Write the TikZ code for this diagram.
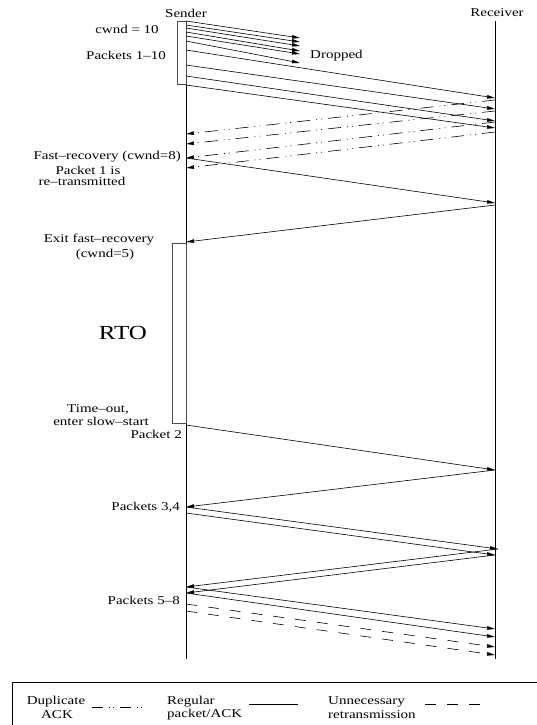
\documentclass[tikz,border=0pt]{standalone}
\usepackage{fontspec}
\setmainfont{Liberation Serif}[FakeStretch=1.25]
\usetikzlibrary{arrows.meta}

\begin{document}
\begin{tikzpicture}[x=1pt, y=-1pt, >={Stealth[length=8pt,width=3.5pt,inset=0pt]},
  every node/.style={font=\fontsize{12}{14}\selectfont, inner sep=0pt},
  packet/.style={->, line width=0.6pt},
  dupack/.style={->, line width=0.6pt, dash pattern=on 13pt off 6pt on 1pt off 4pt on 1pt off 6pt},
  spurious/.style={->, line width=0.6pt, dash pattern=on 11pt off 11pt},
  window/.style={draw=black!70, line width=0.6pt},
  lbl/.style={anchor=east}]
  \useasboundingbox (0,0) rectangle (536,725);
  % time lines
  \node (snd) at (186,13) {Sender};
  \node (rcv) at (497,13) {Receiver};
  \coordinate (sTop) at (186,21); \coordinate (sBot) at (186,659);
  \coordinate (rTop) at (495,21); \coordinate (rBot) at (495,659);
  \draw[line width=0.7pt] (sTop) -- (sBot);
  \draw[line width=0.7pt] (rTop) -- (rBot);
  % window of 10 packets, 6 of them lost
  \draw[window] (177,21) rectangle (186,84);
  \node (cwnd) at (127,29) {cwnd = 10};
  \node (pk) at (126,55) {Packets 1--10};
  \foreach \n/\a/\b in {1/21/38, 2/25/42, 3/28/46, 4/32/51, 5/36/54, 6/41/63}{
    \coordinate (p\n) at (186,\a); \coordinate (x\n) at (300,\b);
    \draw[packet] (p\n) -- (x\n);
  }
  \node[anchor=west] (drop) at (310,56) {Dropped};
  \foreach \n/\a/\b in {7/50/98, 8/65/109, 9/76/121, 10/85/128}{
    \coordinate (p\n) at (186,\a); \coordinate (r\n) at (495,\b);
    \draw[packet] (p\n) -- (r\n);
  }
  % duplicate acks
  \foreach \n/\a/\b in {1/100/134, 2/111/144, 3/122/158, 4/132/168}{
    \coordinate (u\n) at (495,\a); \coordinate (a\n) at (186,\b);
    \draw[dupack] (u\n) -- (a\n);
  }
  % fast recovery
  \node[lbl] (fr) at (181,157) {Fast--recovery (cwnd=8)};
  \node (re1) at (88,170) {Packet 1 is};
  \node (re2) at (82,181) {re--transmitted};
  \coordinate (s11) at (186,158); \coordinate (r11) at (495,203);
  \draw[packet] (s11) -- (r11);
  \coordinate (r12) at (495,205); \coordinate (s12) at (186,242);
  \draw[packet] (r12) -- (s12);
  \node (ex1) at (99,240) {Exit fast--recovery};
  \node (ex2) at (105,255) {(cwnd=5)};
  % retransmission timer
  \draw[window] (172,243) rectangle (186,423);
  \node[font=\fontsize{20}{22}\selectfont] (rto) at (123,333) {RTO};
  \node (to1) at (98,409) {Time--out,};
  \node (to2) at (101,421) {enter slow--start};
  % slow start
  \node[lbl] (pk2) at (182,434) {Packet 2};
  \coordinate (s13) at (186,425); \coordinate (r13) at (495,470);
  \draw[packet] (s13) -- (r13);
  \coordinate (s14) at (186,507);
  \draw[packet] (r13) -- (s14);
  \node[lbl] (pk34) at (180,507) {Packets 3,4};
  \coordinate (s15) at (186,513);
  \coordinate (r14) at (498,549); \coordinate (r15) at (495,555);
  \draw[packet] (s14) -- (r14);
  \draw[packet] (s15) -- (r15);
  \coordinate (s16) at (186,587); \coordinate (s17) at (186,593);
  \draw[packet] (r14) -- (s16);
  \draw[packet] (r15) -- (s17);
  \node[lbl] (pk58) at (180,600) {Packets 5--8};
  \coordinate (s18) at (186,604); \coordinate (s19) at (186,611);
  \coordinate (r16) at (495,629); \coordinate (r17) at (495,637);
  \coordinate (r18) at (495,647); \coordinate (r19) at (495,655);
  \draw[packet] (s16) -- (r16);
  \draw[packet] (s17) -- (r17);
  \draw[spurious] (s18) -- (r18);
  \draw[spurious] (s19) -- (r19);
  % legend
  \draw[line width=0.7pt] (12,682) rectangle (545,735);
  \node (l1a) at (56,702) {Duplicate};
  \node (l1b) at (57,715) {ACK};
  \coordinate (k1a) at (92,707); \coordinate (k1b) at (143,707);
  \draw[line width=0.6pt, dash pattern=on 11pt off 6pt on 1pt off 3pt on 1pt off 6pt] (k1a) -- (k1b);
  \node[anchor=west] (l2a) at (167,702) {Regular};
  \node[anchor=west] (l2b) at (167,715) {packet/ACK};
  \coordinate (k2a) at (249,704); \coordinate (k2b) at (298,704);
  \draw[line width=0.6pt] (k2a) -- (k2b);
  \node[anchor=west] (l3a) at (328,702) {Unnecessary};
  \node[anchor=west] (l3b) at (328,715) {retransmission};
  \coordinate (k3a) at (425,704); \coordinate (k3b) at (490,704);
  \draw[line width=0.6pt, dash pattern=on 11pt off 11pt] (k3a) -- (k3b);
\end{tikzpicture}
\end{document}
